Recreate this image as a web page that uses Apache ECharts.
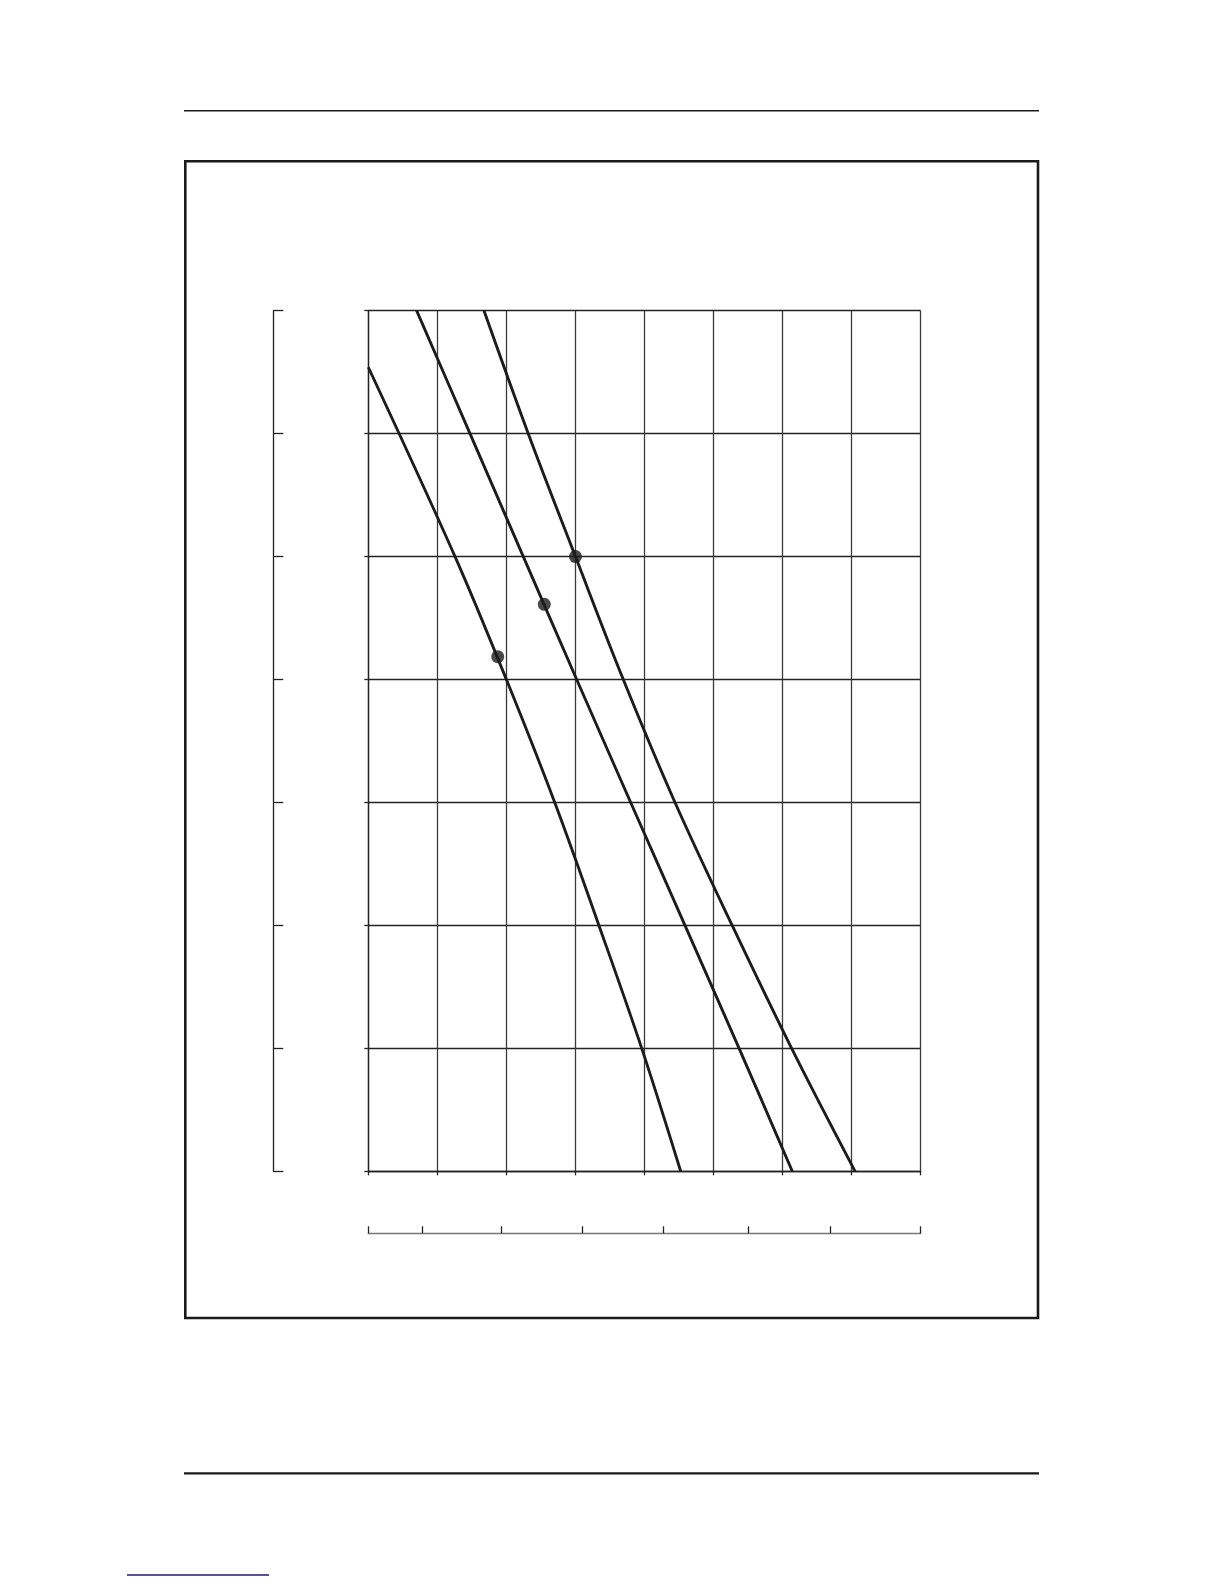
<!DOCTYPE html>
<html>
<head>
<meta charset="utf-8">
<script src="https://cdn.jsdelivr.net/npm/echarts@6/dist/echarts.min.js"></script>
<style>
html,body{margin:0;padding:0;background:#fff;}
#c{width:1224px;height:1584px;}
</style>
</head>
<body>
<div id="c"></div>
<script>
// ---- data ----
const xRange = [0, 8];
const yRange = [0, 7];
const curveA = [[0,6.54],[1.256,5],[2,4],[2.7,3],[3.34,2],[3.96,1],[4.524,0]];
const curveB = [[0.70,7],[1.473,6],[2.245,5],[3.018,4],[3.80,3],[4.586,2],[5.37,1],[6.14,0]];
const curveC = [[1.676,7],[2.317,6],[3,5],[3.693,4],[4.442,3],[5.27,2],[6.131,1],[7.05,0]];
const markerPoints = [[1.874,4.186],[2.549,4.612],[3,5]];
const bottomScaleTicks = [0, 0.782, 1.929, 3.098, 4.274, 5.505, 6.695, 8.0];

const chart = echarts.init(document.getElementById('c'), null, {renderer:'canvas'});
const ink = '#1c1c1c';
const lineSeries = (d) => ({
  type:'line', data:d, smooth:0.35, showSymbol:false, silent:true,
  lineStyle:{color:ink, width:2.9}, xAxisIndex:0, yAxisIndex:0
});
chart.setOption({
  animation:false,
  backgroundColor:'#fff',
  grid:{left:368.3, top:310.7, width:552.4, height:860.6, containLabel:false},
  xAxis:[
    {type:'value', min:xRange[0], max:xRange[1], interval:1, position:'bottom',
     axisLine:{show:true, onZero:false, lineStyle:{color:'#222', width:1.3}},
     axisTick:{show:true, length:4, lineStyle:{color:'#222', width:1.3}},
     axisLabel:{show:false},
     splitLine:{show:true, lineStyle:{color:'#3a3a3a', width:1.3}}},
    {type:'value', min:xRange[0], max:xRange[1], position:'bottom', offset:62,
     axisLine:{show:true, onZero:false, lineStyle:{color:'#777', width:1.3}},
     axisTick:{show:true, inside:true, length:7, customValues:bottomScaleTicks, lineStyle:{color:'#222', width:1.3}},
     axisLabel:{show:false},
     splitLine:{show:false}}
  ],
  yAxis:[
    {type:'value', min:yRange[0], max:yRange[1], interval:1, position:'left',
     axisLine:{show:true, onZero:false, lineStyle:{color:'#222', width:1.3}},
     axisTick:{show:true, length:4, lineStyle:{color:'#222', width:1.3}},
     axisLabel:{show:false},
     splitLine:{show:true, lineStyle:{color:'#222', width:1.3}}},
    {type:'value', min:yRange[0], max:yRange[1], interval:1, position:'left', offset:95,
     axisLine:{show:true, onZero:false, lineStyle:{color:'#222', width:1.3}},
     axisTick:{show:true, inside:true, length:10, lineStyle:{color:'#222', width:1.3}},
     axisLabel:{show:false},
     splitLine:{show:false}}
  ],
  series:[
    lineSeries(curveA),
    lineSeries(curveB),
    lineSeries(curveC),
    {type:'scatter', data:markerPoints, symbol:'circle', symbolSize:13, silent:true,
     itemStyle:{color:ink}, xAxisIndex:0, yAxisIndex:0, z:5}
  ],
  graphic:[
    {type:'line', shape:{x1:184, y1:110.7, x2:1039, y2:110.7}, style:{stroke:'#1a1a1a', lineWidth:1.4}},
    {type:'rect', shape:{x:185.3, y:161.3, width:852.7, height:1156.7}, style:{fill:null, stroke:'#1a1a1a', lineWidth:2.6}},
    {type:'line', shape:{x1:184, y1:1473.3, x2:1039, y2:1473.3}, style:{stroke:'#1a1a1a', lineWidth:2.2}},
    {type:'line', shape:{x1:127, y1:1575, x2:269, y2:1575}, style:{stroke:'#1a1a80', lineWidth:1.5}}
  ]
});
</script>
</body>
</html>
